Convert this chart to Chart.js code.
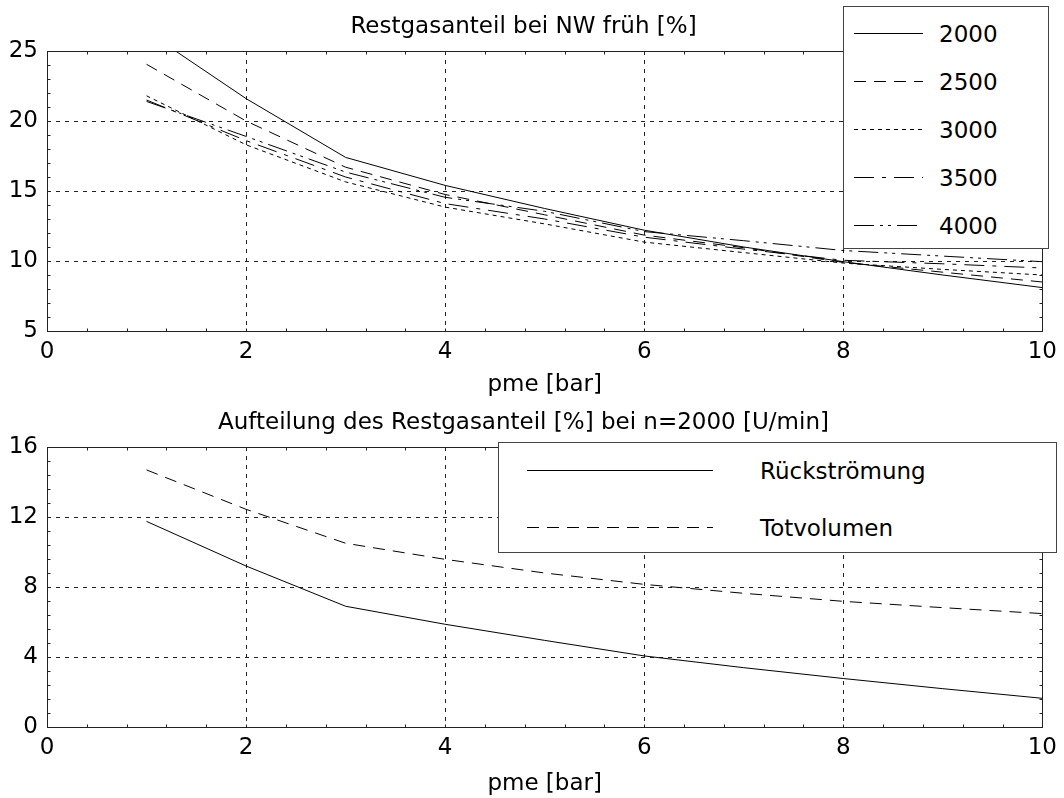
<!DOCTYPE html>
<html>
<head>
<meta charset="utf-8">
<script src="https://cdn.jsdelivr.net/npm/chart.js@4.4.0/dist/chart.umd.min.js"></script>
<style>
body { margin: 0; background: #fff; }
#page { position: relative; width: 1064px; height: 798px; overflow: hidden; font-family: "DejaVu Sans", sans-serif; }
.holder { position: absolute; left: 0; width: 1064px; }
.legend { position: absolute; background: #fff; border: 1px solid #444; box-sizing: border-box; }
.legend svg { position: absolute; }
.legend span { position: absolute; font-size: 23px; line-height: 28px; color: #000; white-space: nowrap; }
</style>
</head>
<body>
<div id="page">
  <div class="holder" style="top:0;height:399px"><canvas id="graphTop"></canvas></div>
  <div class="holder" style="top:396px;height:402px"><canvas id="graphBottom"></canvas></div>
  <div class="legend" id="legendTop" style="left:843px;top:6px;width:206px;height:243px"></div>
  <div class="legend" id="legendBottom" style="left:498px;top:442px;width:559px;height:111px"></div>
</div>
<script>
////////////////// values //////////////////
var pme = [1, 2, 3, 4, 5, 6, 7, 8, 9, 10];

// Restgasanteil [%] bei NW früh, one list per speed
var speeds = ['2000', '2500', '3000', '3500', '4000'];
var rg2000 = [26.4, 21.6, 17.4, 15.4, 13.75, 12.2, 11.0, 9.95, 9.0, 8.1];
var rg2500 = [24.05, 20.0, 16.7, 14.75, 13.3, 11.85, 10.95, 9.9, 9.2, 8.5];
var rg3000 = [21.8, 18.3, 15.65, 13.85, 12.65, 11.35, 10.6, 9.85, 9.4, 9.0];
var rg3500 = [21.5, 18.6, 16.0, 14.1, 13.0, 11.7, 10.85, 10.05, 9.8, 9.5];
var rg4000 = [21.4, 18.9, 16.35, 14.55, 13.55, 12.1, 11.45, 10.75, 10.35, 9.95];

// Aufteilung bei n=2000
var parts = ['Rückströmung', 'Totvolumen'];
var rueckstroemung = [11.75, 9.2, 6.9, 5.87, 4.95, 4.06, 3.39, 2.77, 2.19, 1.64];
var totvolumen = [14.69, 12.44, 10.5, 9.58, 8.8, 8.15, 7.64, 7.18, 6.82, 6.48];

// axis ranges: [min, max, minor step, labelled step]
var xRange = [0, 10, 0.4, 2];
var yRangeTop = [5, 25, 1, 5];
var yRangeBottom = [0, 16, 0.8, 4];

////////////////// line styles //////////////////
var dashTop = [[], [12, 8], [4, 4], [20, 8, 4, 8], [20, 6, 3, 5, 3, 6]];
var dashBottom = [[], [12, 8]];

Chart.defaults.font.family = '"DejaVu Sans", sans-serif';
Chart.defaults.font.size = 23;
Chart.defaults.color = '#000';

function isMajor(v, step) {
    var q = v / step;
    return Math.abs(q - Math.round(q)) < 1e-6;
}

function points(ys) {
    return ys.map(function (y, i) { return {x: pme[i], y: y}; });
}

// frame round the plot area plus small inward ticks on all four sides
var frameTicks = {
    id: 'frameTicks',
    afterDraw: function (chart) {
        var ctx = chart.ctx, a = chart.chartArea;
        var xs = chart.scales.x, ys = chart.scales.y;
        var l = Math.round(a.left) + 0.5, r = Math.round(a.right) + 0.5;
        var t = Math.round(a.top) + 0.5, b = Math.round(a.bottom) + 0.5;
        ctx.save();
        ctx.strokeStyle = '#222';
        ctx.lineWidth = 1;
        ctx.beginPath();
        xs.ticks.forEach(function (tk) {
            var px = Math.round(xs.getPixelForValue(tk.value)) + 0.5;
            ctx.moveTo(px, b); ctx.lineTo(px, b - 3);
            ctx.moveTo(px, t); ctx.lineTo(px, t + 3);
        });
        ys.ticks.forEach(function (tk) {
            var py = Math.round(ys.getPixelForValue(tk.value)) + 0.5;
            ctx.moveTo(l, py); ctx.lineTo(l + 3, py);
            ctx.moveTo(r, py); ctx.lineTo(r - 3, py);
        });
        ctx.stroke();
        ctx.strokeRect(l, t, r - l, b - t);
        ctx.restore();
    }
};

function gridColor(range) {
    return function (c) {
        var v = c.tick.value;
        if (v === range[0] || v === range[1]) return 'rgba(0,0,0,0)';
        return isMajor(v, range[3]) ? '#222' : 'rgba(0,0,0,0)';
    };
}

function axis(range, extra) {
    var o = {
        type: 'linear',
        min: range[0],
        max: range[1],
        grid: { color: gridColor(range), lineWidth: 1, drawTicks: false },
        border: { display: false, dash: [4, 5] },
        ticks: {
            stepSize: range[2],
            maxTicksLimit: 100,
            autoSkip: false,
            maxRotation: 0,
            callback: function (v) { return isMajor(v, range[3]) ? String(Math.round(v)) : ''; }
        }
    };
    for (var k in extra) o[k] = extra[k];
    return o;
}

function makeGraph(canvasId, title, names, series, dashes, yRange, canvasH, titleBottomPad) {
    var datasets = [];
    for (var i = 0; i < series.length; i++) {
        datasets.push({
            label: names[i],
            data: points(series[i]),
            borderColor: '#000',
            borderWidth: 1,
            borderDash: dashes[i],
            pointRadius: 0,
            fill: false,
            tension: 0
        });
    }
    var xAxis = axis(xRange, {
        title: { display: true, text: 'pme [bar]', padding: { top: 0, bottom: titleBottomPad } },
        afterFit: function (s) { s.height = canvasH - 331; }
    });
    xAxis.ticks.padding = 7;
    var yAxis = axis(yRange, {
        afterFit: function (s) { s.width = 47; }
    });
    yAxis.ticks.padding = 9;

    return new Chart(document.getElementById(canvasId), {
        type: 'line',
        data: { datasets: datasets },
        options: {
            responsive: true,
            maintainAspectRatio: false,
            animation: false,
            events: [],
            layout: { padding: { left: 0, right: 17, top: 0, bottom: 0 } },
            scales: { x: xAxis, y: yAxis },
            plugins: {
                legend: { display: false },
                tooltip: { enabled: false },
                title: {
                    display: true,
                    text: title,
                    font: { size: 23, weight: 'normal' },
                    color: '#000',
                    padding: { top: 13, bottom: 10.4 }
                }
            }
        },
        plugins: [frameTicks]
    });
}

// html legend, built from the chart's own datasets
function buildLegend(chart, boxId, firstRow, rowStep, lineLeft, lineLen, textLeft) {
    var box = document.getElementById(boxId);
    var html = '';
    chart.data.datasets.forEach(function (ds, i) {
        var cy = Math.round(firstRow + i * rowStep);
        var dash = ds.borderDash.length ? ds.borderDash.join(' ') : 'none';
        html += '<svg style="left:' + lineLeft + 'px;top:' + (cy - 2) + 'px" width="' + lineLen + '" height="5">' +
            '<line x1="0" y1="2.5" x2="' + lineLen + '" y2="2.5" stroke="' + ds.borderColor +
            '" stroke-width="1" stroke-dasharray="' + dash + '"/></svg>';
        html += '<span style="left:' + textLeft + 'px;top:' + (cy - 13) + 'px">' + ds.label + '</span>';
    });
    box.innerHTML = html;
}

var topGraph = makeGraph('graphTop', 'Restgasanteil bei NW früh [%]', speeds,
    [rg2000, rg2500, rg3000, rg3500, rg4000], dashTop, yRangeTop, 399, 0);
var bottomGraph = makeGraph('graphBottom', 'Aufteilung des Restgasanteil [%] bei n=2000 [U/min]', parts,
    [rueckstroemung, totvolumen], dashBottom, yRangeBottom, 402, 0);

buildLegend(topGraph, 'legendTop', 25.7, 48, 10, 69, 95);
buildLegend(bottomGraph, 'legendBottom', 27.3, 56.4, 28, 186, 261);
</script>
</body>
</html>
